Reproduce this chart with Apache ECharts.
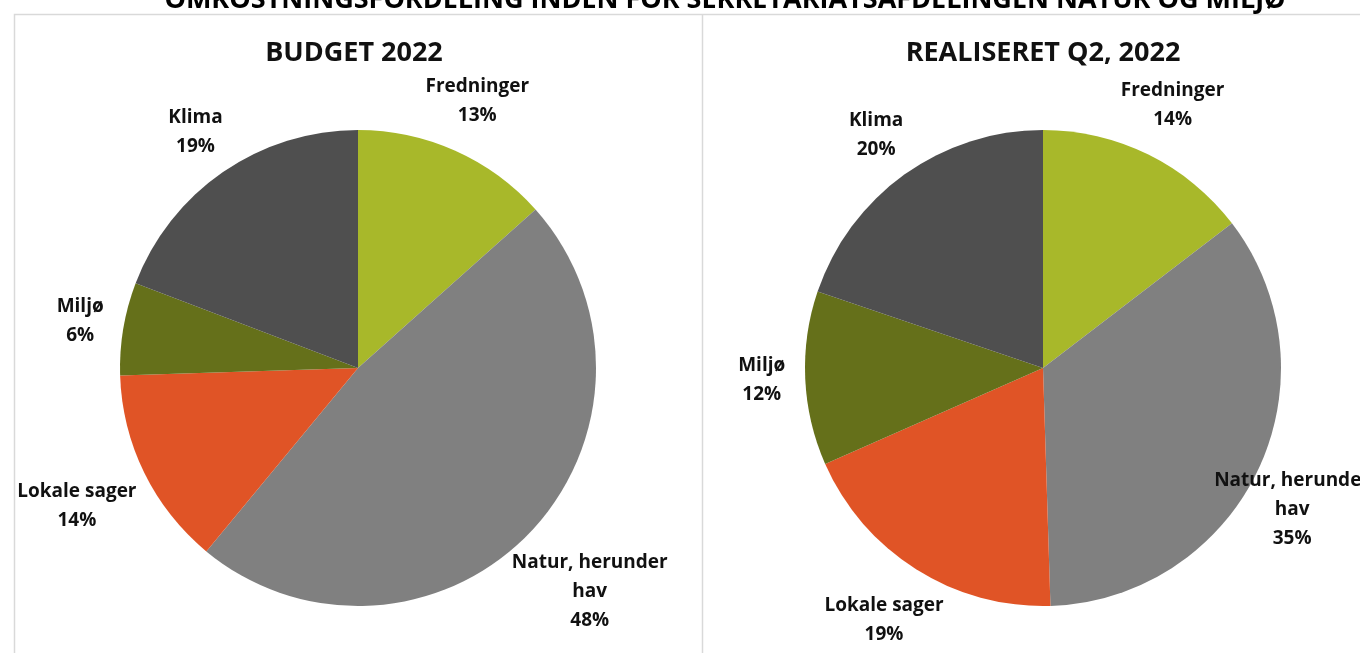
<!DOCTYPE html>
<html>
<head>
<meta charset="utf-8">
<title>Omkostningsfordeling</title>
<script src="https://cdn.jsdelivr.net/npm/echarts@6/dist/echarts.min.js"></script>
<style>
  html, body { margin: 0; padding: 0; background: #fff; }
  #main { width: 1360px; height: 653px; }
</style>
</head>
<body>
<div id="main"></div>
<script>
// kategorier og farver
var categories = ['Fredninger', 'Natur, herunder hav', 'Lokale sager', 'Miljø', 'Klima'];
var colors = ['#a8b82a', '#808080', '#e05426', '#65701a', '#4f4f4f'];

// andele (pct.)
var budget2022 = [13.4, 47.6, 13.5, 6.3, 19.2];
var realiseret2022 = [14.6, 34.9, 18.9, 11.8, 19.8];

var font = 'Open Sans';
var R = 238;
var centers = [[358, 368], [1043, 368]];
var seriesValues = [budget2022, realiseret2022];

function toData(values) {
    return values.map(function (v, i) {
        return {name: categories[i], value: v, itemStyle: {color: colors[i]}};
    });
}

// ombryd lange navne ved mellemrum (max ca. 15 tegn pr. linje)
function wrap(name) {
    var words = name.split(' '), lines = [], cur = '';
    words.forEach(function (w) {
        if (cur && (cur + ' ' + w).length > 15) { lines.push(cur); cur = w; }
        else cur = cur ? cur + ' ' + w : w;
    });
    lines.push(cur);
    return lines.join('\n');
}

// label udenfor kagestykket, langs midtervinklen (som Excel)
function placeLabel(params) {
    var vals = seriesValues[params.seriesIndex];
    var c = centers[params.seriesIndex];
    var total = 0, before = 0;
    for (var i = 0; i < vals.length; i++) {
        total += vals[i];
        if (i < params.dataIndex) before += vals[i];
    }
    var a = (before + vals[params.dataIndex] / 2) / total * Math.PI * 2;
    var s = Math.sin(a), co = Math.cos(a);
    var w = params.labelRect.width, h = params.labelRect.height;
    var d = R + 20 + Math.sqrt(Math.pow(s * w / 2, 2) + Math.pow(co * h / 2, 2));
    var x = c[0] + s * d;
    var y = c[1] - co * d;
    x = Math.min(x, 1370 - w / 2);
    return {x: x, y: y, align: 'center', verticalAlign: 'middle'};
}

function pieSeries(name, values, idx) {
    return {
        name: name,
        type: 'pie',
        center: centers[idx],
        radius: R,
        startAngle: 90,
        clockwise: true,
        percentPrecision: 0,
        avoidLabelOverlap: false,
        silent: true,
        itemStyle: {borderWidth: 0},
        label: {
            show: true,
            position: 'outside',
            formatter: function (p) {
                return wrap(p.name) + '\n' + p.percent + '%';
            },
            fontFamily: font,
            fontWeight: 'bold',
            fontSize: 19,
            lineHeight: 29,
            color: '#111',
            align: 'center'
        },
        labelLine: {show: false, length: 10, length2: 0},
        labelLayout: placeLabel,
        data: toData(values)
    };
}

var myChart = echarts.init(document.getElementById('main'), null, {renderer: 'canvas'});

var option = {
    backgroundColor: '#fff',
    animation: false,
    title: [
        {
            text: 'OMKOSTNINGSFORDELING INDEN FOR SEKRETARIATSAFDELINGEN NATUR OG MILJØ',
            left: 720, top: -18, textAlign: 'center',
            textStyle: {fontFamily: font, fontWeight: 'bold', fontSize: 27, color: '#000'}
        },
        {
            text: 'BUDGET 2022',
            left: 349, top: 35, textAlign: 'center',
            textStyle: {fontFamily: font, fontWeight: 'bold', fontSize: 27, color: '#111'}
        },
        {
            text: 'REALISERET Q2, 2022',
            left: 1038, top: 35, textAlign: 'center',
            textStyle: {fontFamily: font, fontWeight: 'bold', fontSize: 27, color: '#111'}
        }
    ],
    graphic: [
        {type: 'rect', shape: {x: 14.5, y: 14.5, width: 1400, height: 700}, style: {fill: null, stroke: '#d9d9d9', lineWidth: 1.5}},
        {type: 'line', shape: {x1: 702.5, y1: 14, x2: 702.5, y2: 653}, style: {stroke: '#d9d9d9', lineWidth: 1.5}}
    ],
    series: [
        pieSeries('BUDGET 2022', budget2022, 0),
        pieSeries('REALISERET Q2, 2022', realiseret2022, 1)
    ]
};

myChart.setOption(option);
</script>
</body>
</html>
